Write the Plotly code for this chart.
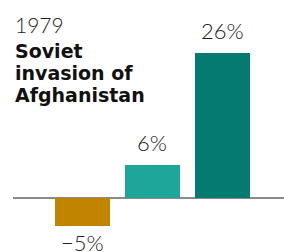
import plotly.graph_objects as go

categories = ["A", "B", "C"]
values = [-5, 6, 26]
labels = ["\u22125%", "6%", "26%"]
colors = ["#C08400", "#1FA69B", "#047A71"]

title_year = "1979"
title_lines = ["Soviet", "invasion of", "Afghanistan"]

W, H = 284, 252
fig = go.Figure()
fig.add_trace(go.Bar(
    x=list(range(len(categories))), y=values,
    marker=dict(color=colors, line=dict(width=0)),
    width=0.786, hoverinfo="skip", showlegend=False,
))

for i, (v, t) in enumerate(zip(values, labels)):
    fig.add_annotation(
        x=i, y=v, text=t, showarrow=False, xref="x", yref="y",
        yanchor="bottom" if v >= 0 else "top",
        yshift=7 if v >= 0 else -1,
        font=dict(family="Lato", size=22, color="#222222", weight=300),
    )

fig.add_annotation(
    x=0, y=1 - 10 / H, xref="paper", yref="paper", xanchor="left", yanchor="top",
    text=title_year, showarrow=False, align="left",
    font=dict(family="Lato", size=21, color="#222222", weight=300),
)
for j, line in enumerate(title_lines):
    fig.add_annotation(
        x=0, y=1 - (38 + 22 * j) / H, xref="paper", yref="paper",
        xanchor="left", yanchor="top",
        text="<b>" + line + "</b>", showarrow=False, align="left",
        font=dict(family="DejaVu Sans", size=19, color="#111111"),
    )

fig.update_layout(
    width=W, height=H,
    margin=dict(l=13, r=0, t=0, b=0),
    paper_bgcolor="white", plot_bgcolor="white",
    bargap=0,
    xaxis=dict(range=[-0.993, 2.879], showgrid=False, zeroline=False,
               showticklabels=False, ticks="", fixedrange=True),
    yaxis=dict(range=[-9.68, 35.5], showgrid=False, zeroline=True,
               zerolinecolor="#8a8a8a", zerolinewidth=1.5,
               showticklabels=False, ticks="", fixedrange=True),
)
fig.write_html("out.html", config={"displayModeBar": False},
               post_script="document.body.style.margin='0px';document.body.style.overflow='hidden';")
